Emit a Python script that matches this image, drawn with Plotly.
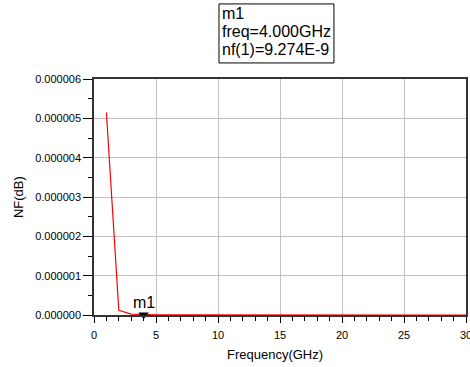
import plotly.graph_objects as go

freq_ghz = list(range(1, 31))
nf_db = [5.15e-6, 1.2e-7, 2.2e-8, 9.274e-9, 5.0e-9, 3.2e-9, 2.3e-9, 1.8e-9, 1.5e-9, 1.3e-9,
         1.1e-9, 1.0e-9, 9.0e-10, 8.5e-10, 8.0e-10, 7.5e-10, 7.0e-10, 6.8e-10, 6.5e-10, 6.3e-10,
         6.1e-10, 6.0e-10, 5.9e-10, 5.8e-10, 5.7e-10, 5.6e-10, 5.5e-10, 5.4e-10, 5.3e-10, 5.2e-10]
marker_name = "m1"
marker_freq = 4.0
marker_val = 9.274e-9
x_ticks = [0, 5, 10, 15, 20, 25, 30]
y_ticks = [0, 1e-6, 2e-6, 3e-6, 4e-6, 5e-6, 6e-6]
x_title = "Frequency(GHz)"
y_title = "NF(dB)"

FONT = "Arial, Liberation Sans, sans-serif"

fig = go.Figure()
fig.add_trace(go.Scatter(x=freq_ghz, y=nf_db, mode="lines",
                         line=dict(color="#ff0000", width=1.2), showlegend=False,
                         cliponaxis=False))
fig.add_trace(go.Scatter(x=[marker_freq], y=[marker_val], mode="markers",
                         marker=dict(symbol="triangle-down", size=9, color="black"),
                         showlegend=False, cliponaxis=False))
fig.add_annotation(x=marker_freq, y=marker_val, xref="x", yref="y", text=marker_name,
                   showarrow=False, yanchor="bottom", yshift=2,
                   font=dict(family=FONT, size=16, color="black"))

# marker readout box
box_lines = [marker_name, f"freq={marker_freq:.3f}GHz",
             "nf(1)=" + f"{marker_val:.3E}".replace("E-09", "E-9")]
fig.add_shape(type="rect", xref="paper", yref="paper", x0=0.336, x1=0.645, y0=1.068, y1=1.318,
              line=dict(color="black", width=1), fillcolor="white", layer="above")
for i, t in enumerate(box_lines):
    fig.add_annotation(x=0.338, y=1.318, xref="paper", yref="paper", xanchor="left", yanchor="middle",
                       yshift=-10 - 18 * i, text=t, showarrow=False, align="left",
                       font=dict(family=FONT, size=16, color="black"))

# axis titles
fig.add_annotation(x=-0.204, y=0.5, xref="paper", yref="paper", text=y_title, textangle=-90,
                   showarrow=False, xanchor="center", yanchor="middle",
                   font=dict(family=FONT, size=13, color="black"))
fig.add_annotation(x=0.487, y=-0.169, xref="paper", yref="paper", text=x_title,
                   showarrow=False, xanchor="center", yanchor="middle",
                   font=dict(family=FONT, size=13, color="black"))

axis_font = dict(family=FONT, size=11, color="black")
fig.update_layout(
    width=470, height=367,
    margin=dict(l=94, r=4, t=79, b=52, autoexpand=False),
    paper_bgcolor="white", plot_bgcolor="white",
    font=dict(family=FONT, color="black"),
    xaxis=dict(range=[0, 30], tickvals=x_ticks, ticktext=[str(v) for v in x_ticks],
               automargin=False, ticklabeloverflow="allow", ticklabelstandoff=3,
               ticks="outside", ticklen=6, tickcolor="black", tickfont=axis_font,
               showline=True, linecolor="#333333", linewidth=1.5, mirror=True,
               showgrid=True, gridcolor="#c0c0c0", gridwidth=1, zeroline=False,
               minor=dict(dtick=1, ticks="outside", ticklen=4, tickcolor="black", showgrid=False)),
    yaxis=dict(range=[0, 6e-6], tickvals=y_ticks, ticktext=[f"{v:.6f}" for v in y_ticks],
               automargin=False,
               ticks="outside", ticklen=9, tickcolor="black", tickfont=axis_font,
               showline=True, linecolor="#333333", linewidth=1.5, mirror=True,
               showgrid=True, gridcolor="#c0c0c0", gridwidth=1, zeroline=False,
               minor=dict(dtick=5e-7, ticks="outside", ticklen=4, tickcolor="black", showgrid=False)),
)
fig.write_html("out.html")
